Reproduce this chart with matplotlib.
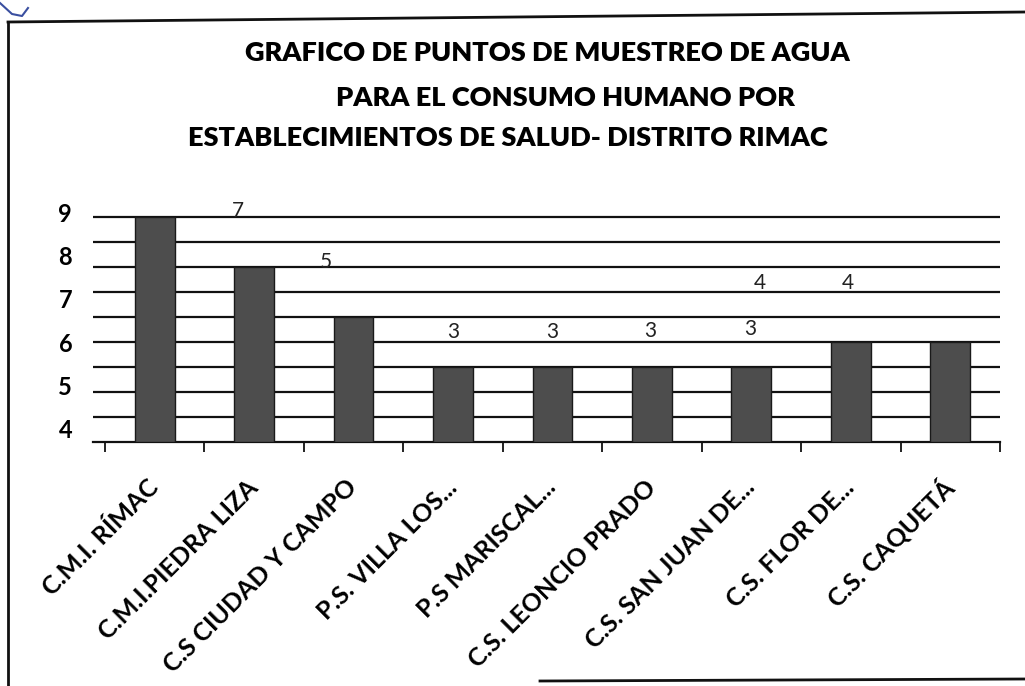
import numpy as np
import matplotlib.pyplot as plt
from matplotlib.lines import Line2D

# data
categories = ["C.M.I. RÍMAC", "C.M.I.PIEDRA LIZA", "C.S CIUDAD Y CAMPO", "P.S. VILLA LOS...",
              "P.S MARISCAL...", "C.S. LEONCIO PRADO", "C.S. SAN JUAN DE...", "C.S. FLOR DE...",
              "C.S. CAQUETÁ"]
values = [9, 7, 5, 3, 3, 3, 3, 4, 4]

# data labels as printed (misplaced in the original scan)
label_text = ["7", "5", "3", "3", "3", "3", "4", "4"]
label_idx = [1, 2, 3, 4, 5, 6, 7, 8]
label_dx = [-0.16, -0.28, 0.0, 0.0, -0.02, -0.01, -0.91, -1.03]
label_y = [9.2, 7.2, 4.4, 4.4, 4.45, 4.5, 6.35, 6.35]

# y tick labels printed on the scan (not aligned with the grid)
ytick_labels = ["9", "8", "7", "6", "5", "4"]
ytick_pos = [9.18, 7.45, 5.72, 3.99, 2.26, 0.53]

title_lines = ["GRAFICO DE PUNTOS DE MUESTREO DE AGUA",
               "PARA EL CONSUMO HUMANO POR",
               "ESTABLECIMIENTOS DE SALUD- DISTRITO RIMAC"]

plt.rcParams['font.family'] = ['Lato', 'DejaVu Sans']

fig = plt.figure(figsize=(10.25, 6.86), dpi=100)
ax = fig.add_axes([93 / 1025, 1 - 442 / 686, 907 / 1025, 230 / 686])

x = np.arange(len(categories))
ax.bar(x, values, width=0.4, color="#4d4d4d", edgecolor="#1a1a1a", linewidth=1, zorder=3)

for g in range(1, 10):
    ax.axhline(g, color="#111111", linewidth=1.6, zorder=1)

ax.set_xlim(-0.62, 8.5)
ax.set_ylim(0, 9)
for s in ["top", "left", "right"]:
    ax.spines[s].set_visible(False)
ax.spines["bottom"].set_linewidth(1.6)
ax.spines["bottom"].set_color("#111111")

ax.set_xticks(x)
ax.set_xticklabels(categories, rotation=45, ha="right", va="center", rotation_mode="anchor",
                   fontsize=18, fontweight="bold")
ax.tick_params(axis="x", length=0, pad=30)
ax.set_xticks(np.arange(-0.5, 9, 1), minor=True)
ax.tick_params(axis="x", which="minor", length=7, width=1.3, direction="out", color="#111111")

ax.set_yticks(ytick_pos)
ax.set_yticklabels(ytick_labels, fontsize=17, fontweight="bold")
ax.tick_params(axis="y", length=0, pad=15)

for t, i, dx, y in zip(label_text, label_idx, label_dx, label_y):
    ax.text(i + dx, y, t, ha="center", va="center", fontsize=15, color="#222222",
            zorder=4, clip_on=False)

fig.text(547 / 1025, 1 - 53 / 686, title_lines[0], ha="center", va="center",
         fontsize=19.5, fontweight="heavy")
fig.text(565 / 1025, 1 - 98 / 686, title_lines[1], ha="center", va="center",
         fontsize=19.5, fontweight="heavy")
fig.text(508 / 1025, 1 - 138 / 686, title_lines[2], ha="center", va="center",
         fontsize=19.5, fontweight="heavy")

# scanned page frame
fig.add_artist(Line2D([8 / 1025, 1.0], [1 - 22 / 686, 1 - 12 / 686], color="#111111", lw=2))
fig.add_artist(Line2D([8 / 1025, 8 / 1025], [1 - 22 / 686, 0.0], color="#111111", lw=2))
fig.add_artist(Line2D([540 / 1025, 1.0], [1 - 681 / 686, 1 - 679 / 686], color="#111111", lw=2))
fig.add_artist(Line2D([0.0, 12 / 1025, 22 / 1025, 28 / 1025], [1 - 3 / 686, 1 - 14 / 686, 1 - 16 / 686, 1 - 8 / 686],
                      color="#3a4fa0", lw=1.5))

fig.savefig("out.png", dpi=100)
